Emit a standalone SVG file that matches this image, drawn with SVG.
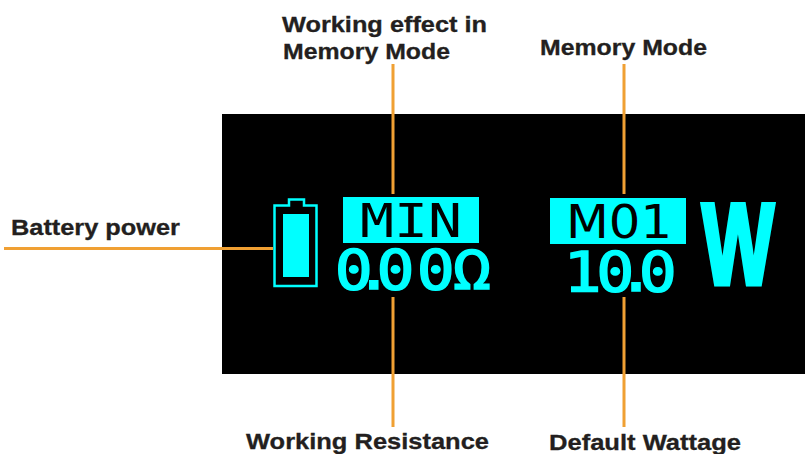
<svg xmlns="http://www.w3.org/2000/svg" width="805" height="454" viewBox="0 0 805 454">
<style>
.l{font-family:"Liberation Sans",Arial,sans-serif;font-weight:700;font-size:22px;fill:#231f20;stroke:#231f20;stroke-width:.3}
.c{stroke:#f0a033;stroke-width:3;fill:none}
.m{font-family:"DejaVu Sans",sans-serif;font-size:46px;fill:#000}
.mm{font-family:"DejaVu Sans Mono",monospace;font-size:46px;fill:#000}
.d{font-family:"DejaVu Sans Mono",monospace;font-size:55px;fill:#00ffff;stroke:#00ffff;stroke-width:1.500}
.w{font-family:"Liberation Sans",Arial,sans-serif;font-weight:700;font-size:115px;fill:#00ffff;stroke:#00ffff;stroke-width:5;stroke-linejoin:miter;stroke-miterlimit:2}
</style>
<rect width="805" height="454" fill="#fff"/>
<rect id="screen" x="222" y="114" width="583" height="260" fill="#000"/>
<g id="connectors">
<path class="c" d="M393 64V194M393 297V427M624 64V194M624 297V427M4 248.500H273"/>
</g>
<g id="battery">
<path d="M274.500 205.500H289V199.500H304V205.500H316.500V286H274.500Z" fill="none" stroke="#00ffff" stroke-width="2.500"/>
<rect x="283" y="214" width="26" height="63" fill="#00ffff"/>
</g>
<g id="min"><rect x="343" y="197" width="136" height="46" fill="#00ffff"/><text class="mm" x="360" y="237" textLength="102" lengthAdjust="spacingAndGlyphs">MIN</text></g>
<g id="resistance"><text class="d" transform="scale(1.15 1)" x="291 308.500 327.500 362.500 394" y="289.500">0.00Ω</text></g>
<g id="m01"><rect x="550" y="198" width="136" height="46" fill="#00ffff"/><text class="m" x="566" y="238" textLength="106" lengthAdjust="spacingAndGlyphs">M01</text></g>
<g id="wattage"><text class="d" transform="scale(1.15 1)" x="490 518.500 536.500 555.500" y="291.500">10.0</text></g>
<g id="unit"><text class="w" x="702" y="283.500" textLength="72" lengthAdjust="spacingAndGlyphs">W</text></g>
<g id="label-effect"><text class="l" x="282" y="32" textLength="205" lengthAdjust="spacingAndGlyphs">Working effect in</text><text class="l" x="283" y="59" textLength="167" lengthAdjust="spacingAndGlyphs">Memory Mode</text></g>
<g id="label-memory"><text class="l" x="540" y="55" textLength="167" lengthAdjust="spacingAndGlyphs">Memory Mode</text></g>
<g id="label-battery"><text class="l" x="11" y="235" textLength="169" lengthAdjust="spacingAndGlyphs">Battery power</text></g>
<g id="label-resistance"><text class="l" x="246" y="449" textLength="243" lengthAdjust="spacingAndGlyphs">Working Resistance</text></g>
<g id="label-default"><text class="l" x="549" y="450" textLength="192" lengthAdjust="spacingAndGlyphs">Default Wattage</text></g>
</svg>
